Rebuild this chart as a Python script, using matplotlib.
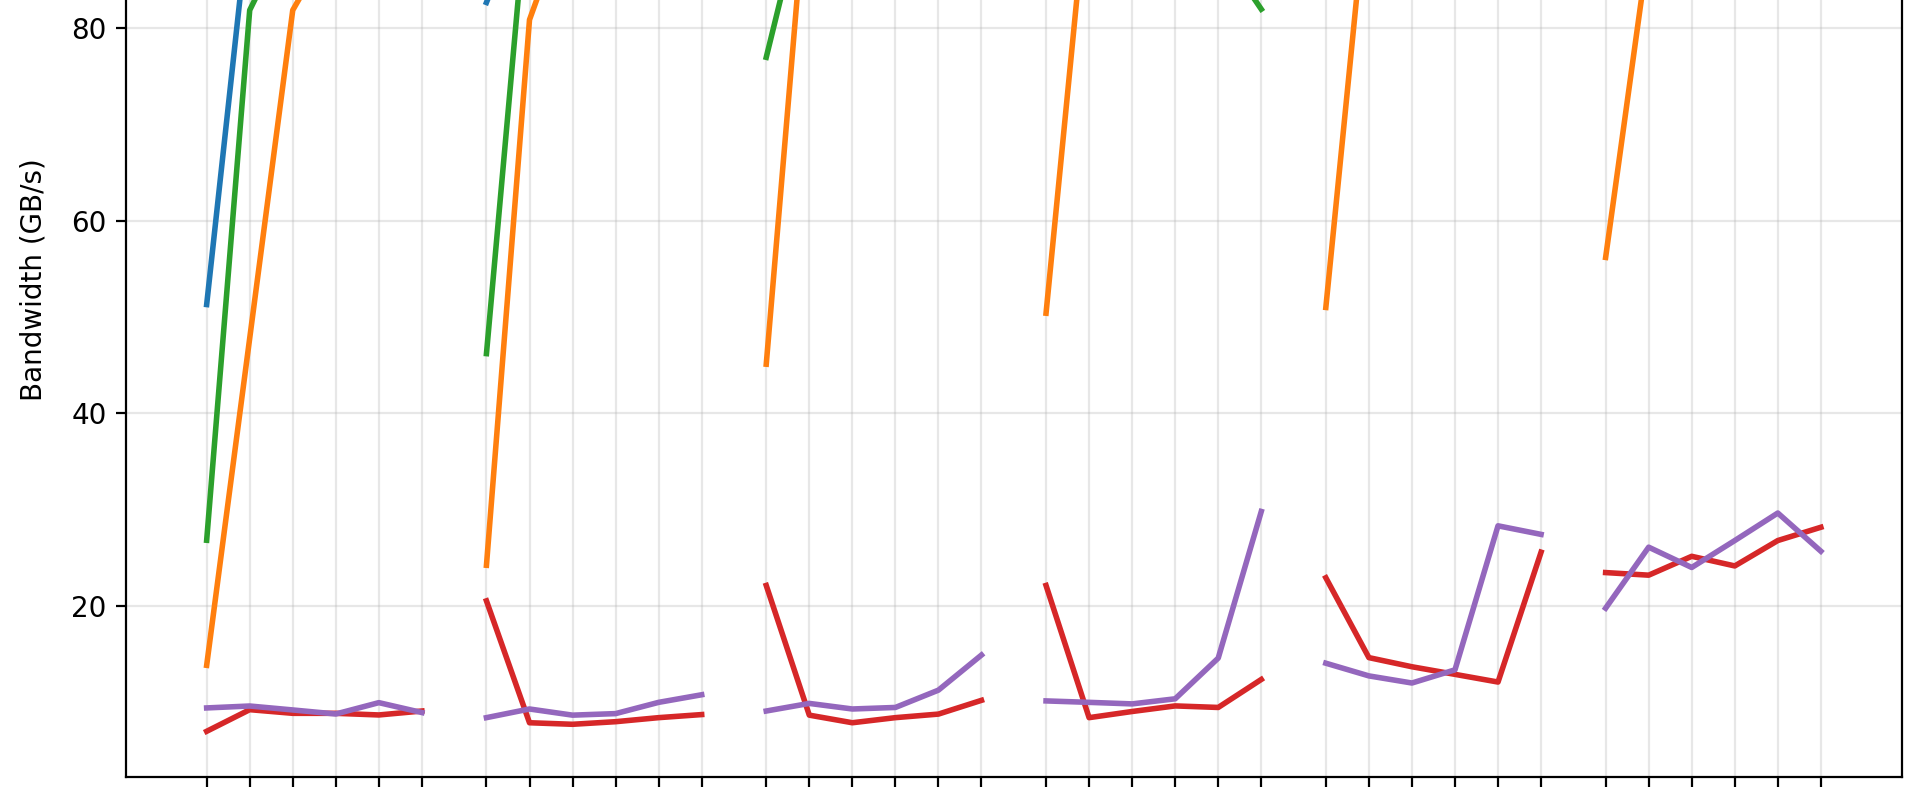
import numpy as np
import matplotlib.pyplot as plt

# 6 groups of 6 points each, one line per series per group
n_groups = 6
n_points = 6

# bandwidth values (GB/s), group by group
blue = [51.3, 92.4, 96.0, 98.5, 99.5, 100.8,
        82.7, 94.0, 97.0, 98.0, 99.0, 99.5,
        88.0, 95.0, 97.0, 98.0, 98.5, 99.0,
        90.0, 96.0, 97.0, 98.0, 98.0, 97.0,
        91.0, 96.0, 97.0, 97.5, 98.0, 98.0,
        89.0, 95.0, 96.0, 97.0, 97.0, 96.0]
orange = [13.8, 47.8, 81.9, 89.7, 93.0, 95.0,
          24.2, 80.9, 93.3, 96.0, 97.0, 97.5,
          45.1, 98.2, 98.0, 98.5, 99.0, 99.0,
          50.4, 96.1, 97.0, 97.5, 98.0, 98.0,
          51.0, 96.0, 97.0, 97.5, 97.5, 97.0,
          56.2, 88.5, 93.0, 95.0, 95.5, 96.0]
green = [26.8, 81.9, 91.0, 95.0, 96.0, 96.5,
         46.2, 96.2, 97.0, 97.5, 98.0, 98.0,
         77.0, 95.2, 96.0, 97.0, 97.0, 97.0,
         90.0, 93.0, 94.0, 93.0, 88.6, 82.0,
         90.0, 94.0, 95.0, 95.0, 94.0, 93.0,
         88.0, 93.0, 94.0, 94.0, 93.0, 92.0]
red = [6.94, 9.19, 8.81, 8.81, 8.64, 9.05,
       20.5, 7.83, 7.67, 7.94, 8.36, 8.68,
       22.1, 8.62, 7.83, 8.36, 8.73, 10.16,
       22.1, 8.36, 9.0, 9.58, 9.42, 12.33,
       22.9, 14.6, 13.65, 12.86, 12.06, 25.56,
       23.44, 23.17, 25.13, 24.13, 26.77, 28.15]
purple = [9.37, 9.57, 9.16, 8.74, 9.92, 8.89,
          8.36, 9.26, 8.62, 8.78, 9.95, 10.74,
          9.05, 9.84, 9.26, 9.42, 11.22, 14.87,
          10.1, 9.95, 9.79, 10.32, 14.55, 29.79,
          14.02, 12.7, 11.96, 13.33, 28.3, 27.41,
          19.74, 26.08, 23.97, 26.77, 29.63, 25.66]

series = [(blue, 'tab:blue'), (orange, 'tab:orange'), (green, 'tab:green'),
          (red, 'tab:red'), (purple, 'tab:purple')]

fig = plt.figure(figsize=(9.6, 4), dpi=200)
# the axes run past the top of the figure (picture is a crop)
ax = fig.add_axes([0.0656, 0.0291, 0.9248, 1.242])

xs_all = []
for g in range(n_groups):
    xs = g * 6.5 + np.arange(n_points)
    xs_all.extend(xs)
    for vals, col in series:
        ax.plot(xs, vals[g * n_points:(g + 1) * n_points], color=col, linewidth=2)

ax.set_xticks(xs_all)
ax.set_xticklabels([])
ax.set_xlim(-1.875, 39.375)
ax.set_ylim(2.22, 105.5)
ax.set_yticks([20, 40, 60, 80])
ax.set_ylabel('Bandwidth (GB/s)', labelpad=8.5)
ax.grid(True, alpha=0.3)

fig.savefig('out.png', dpi=200)
